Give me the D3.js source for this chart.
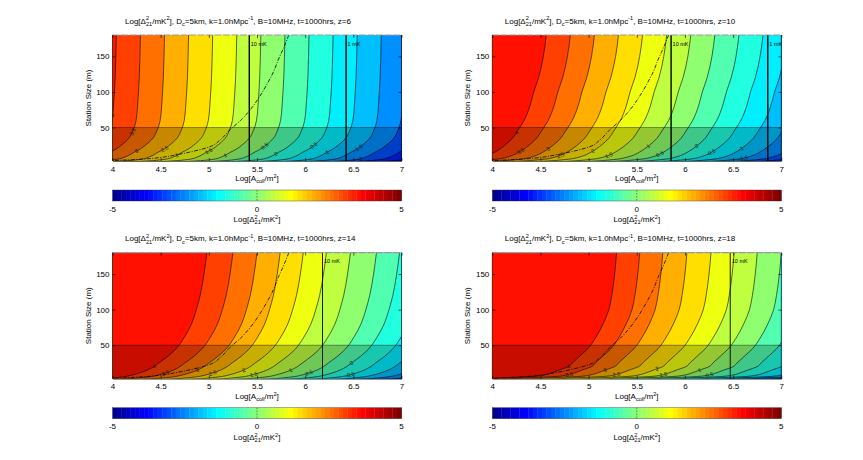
<!DOCTYPE html>
<html>
<head>
<meta charset="utf-8">
<script src="https://cdn.jsdelivr.net/npm/d3@7"></script>
<style>
  body { margin: 0; background: #fff; }
  text { font-family: "Liberation Sans", Arial, sans-serif; }
</style>
</head>
<body>
<svg id="chart"></svg>
<script>
let width = 863,
  height = 460;

// contour levels, log10 of the noise power in mK^2
const levels = [4, 3.5, 3, 2.5, 2, 1.5, 1, 0.5, 0, -0.5, -1, -1.5, -2, -2.5, -3, -3.5, -4];

// redshift of each panel
const zValues = [6, 10, 14, 18];

// log collecting area where each level meets the top edge (station size 180 m)
const topZ6  = [4.04, 4.29, 4.54, 4.79, 5.04, 5.29, 5.54, 5.79, 6.04, 6.29, 6.54, 6.79, 7.04, 7.29, 7.54, 7.79, 8.04];
const topZ10 = [4.56, 4.81, 5.06, 5.31, 5.56, 5.81, 6.06, 6.31, 6.56, 6.81, 7.06, 7.31, 7.56, 7.81, 8.06, 8.31, 8.56];
const topZ14 = [4.98, 5.25, 5.50, 5.74, 5.98, 6.22, 6.47, 6.74, 6.98, 7.23, 7.48, 7.73, 7.98, 8.23, 8.48, 8.73, 8.98];
const topZ18 = [5.29, 5.53, 5.77, 6.02, 6.27, 6.51, 6.75, 7.00, 7.25, 7.50, 7.75, 8.00, 8.25, 8.50, 8.75, 9.00, 9.25];

// how far (in log area) the contours bend left as the station gets smaller
const shiftS   = [180, 150, 120, 100, 80, 60, 45, 35, 25, 20, 15, 11, 8, 6, 4, 3, 0];
const shiftZ6  = [0, 0.005, 0.012, 0.02, 0.03, 0.045, 0.08, 0.12, 0.20, 0.25, 0.32, 0.37, 0.42, 0.47, 0.58, 0.68, 1.1];
const shiftZ10 = [0, 0.03, 0.08, 0.13, 0.17, 0.23, 0.30, 0.35, 0.43, 0.48, 0.54, 0.60, 0.67, 0.74, 0.88, 0.98, 1.5];
const shiftZ14 = [0, 0.03, 0.07, 0.11, 0.16, 0.24, 0.32, 0.40, 0.50, 0.55, 0.62, 0.70, 0.78, 0.85, 0.98, 1.06, 1.6];
const shiftZ18 = [0, 0.02, 0.05, 0.08, 0.14, 0.22, 0.30, 0.38, 0.46, 0.50, 0.60, 0.68, 0.76, 0.88, 1.20, 1.30, 1.9];

// contour labels: [level, station size]
const labelsZ6  = [[4, 67], [3.5, 44], [3, 17], [2.5, 20], [2, 11], [1.5, 17], [1, 11], [0.5, 24], [0, 13], [-0.5, 24], [-1, 15], [-1.5, 21], [-2, 6]];
const labelsZ10 = [[4, 43], [3.5, 17], [3, 20], [2.5, 11], [2, 17], [1.5, 11], [1, 24], [0.5, 13], [0, 24], [-0.5, 15], [-1, 20], [-1.5, 7]];
const labelsZ14 = [[4, 20], [3.5, 11], [3, 15], [2.5, 11], [2, 15], [1.5, 9], [1, 15], [0.5, 11], [0, 25], [-0.5, 8.5]];
const labelsZ18 = [[4, 20], [3.5, 9], [3, 15], [2.5, 9], [2, 17], [1.5, 9], [1, 15], [0.5, 8.5]];

// 10 mK and 1 mK sensitivity lines (log area)
const line10mK = [5.42, 5.856, 6.18, 6.47];
const line1mK  = [6.425, 6.86, null, null];

// dash-dot curve (same in every panel)
const fovA = [5.83, 5.78, 5.72, 5.67, 5.60, 5.52, 5.43, 5.33, 5.22, 5.12, 5.01, 4.85, 4.66, 4.50, 4.30, 4.00];
const fovS = [180, 163, 145, 128, 110, 92, 75, 60, 47, 33, 23, 17, 11.6, 8, 5.5, 3.6];

// axis ticks
const xTicks = [4, 4.5, 5, 5.5, 6, 6.5, 7];
const yTicks = [50, 100, 150];
const cbTicks = [-5, 0, 5];

const panels = [
  { z: zValues[0], top: topZ6,  shift: shiftZ6,  labels: labelsZ6,  l10: line10mK[0], l1: line1mK[0], left: 112.5, y0: 35 },
  { z: zValues[1], top: topZ10, shift: shiftZ10, labels: labelsZ10, l10: line10mK[1], l1: line1mK[1], left: 492.3, y0: 35 },
  { z: zValues[2], top: topZ14, shift: shiftZ14, labels: labelsZ14, l10: line10mK[2], l1: line1mK[2], left: 112.5, y0: 252.7 },
  { z: zValues[3], top: topZ18, shift: shiftZ18, labels: labelsZ18, l10: line10mK[3], l1: line1mK[3], left: 492.3, y0: 252.7 }
];
const pw = 289, ph = 126;

let svg = d3.select("#chart").attr("width", width).attr("height", height);
svg.append("rect").attr("width", width).attr("height", height).attr("fill", "#fff");

// matlab jet, 64 colours, limits [-5, 5]
function jet(t) {
  const c = v => Math.max(0, Math.min(1, v));
  const r = c(Math.min(4 * t - 1.5, -4 * t + 4.5));
  const g = c(Math.min(4 * t - 0.5, -4 * t + 3.5));
  const b = c(Math.min(4 * t + 0.5, -4 * t + 2.5));
  return d3.rgb(r * 255, g * 255, b * 255).formatHex();
}
function cmap(v) {
  let i = Math.floor((v + 5) / 10 * 64);
  i = Math.max(0, Math.min(63, i));
  return jet((i + 1) / 64);
}

// text with super / subscripts
function rich(g, x, y, parts, size, anchor) {
  const t = g.append("text").attr("x", x).attr("y", y)
    .attr("font-size", size).attr("text-anchor", anchor).attr("fill", "#000");
  let off = 0;
  parts.forEach(([s, k, dx]) => {
    const target = k === "sup" ? -0.4 * size : k === "sub" ? 0.3 * size : 0;
    const ts = t.append("tspan").attr("dy", target - off).text(s);
    if (k !== "n") ts.attr("font-size", size * 0.7);
    if (dx) ts.attr("dx", dx);
    off = target;
  });
  return t;
}

const deltaLabel = size => [["Log[Δ", "n"], ["2", "sup"], ["21", "sub", -0.39 * size], ["/mK", "n"], ["2", "sup"], ["]", "n"]];

panels.forEach((p, i) => {
  const x = d3.scaleLinear().domain([4, 7]).range([p.left, p.left + pw]);
  const y = d3.scaleLinear().domain([3, 180]).range([p.y0 + ph, p.y0]);
  const shiftAt = d3.scaleLinear().domain(shiftS).range(p.shift);

  const g = svg.append("g");
  g.append("clipPath").attr("id", "clip" + i)
    .append("rect").attr("x", x(4)).attr("y", y(180)).attr("width", pw).attr("height", ph);
  const plot = g.append("g").attr("clip-path", "url(#clip" + i + ")");

  plot.append("rect").attr("x", x(4)).attr("y", y(180)).attr("width", pw).attr("height", ph)
    .attr("fill", cmap(levels[levels.length - 1] - 1));

  const curves = levels.map((L, k) => ({
    L: L,
    pts: shiftS.map((s, j) => [p.top[k] - p.shift[j], s])
  }));

  const area = d3.area().curve(d3.curveMonotoneY)
    .y(d => y(d[1])).x0(x(4)).x1(d => x(d[0]));
  const line = d3.line().curve(d3.curveMonotoneY)
    .x(d => x(d[0])).y(d => y(d[1]));

  // filled bands, lowest level first
  curves.slice().reverse().forEach(c => {
    plot.append("path").attr("d", area(c.pts)).attr("fill", cmap(c.L - 0.5));
  });

  // shaded small-station region
  plot.append("rect").attr("x", x(4)).attr("y", y(50)).attr("width", pw).attr("height", y(3) - y(50))
    .attr("fill", "#000").attr("fill-opacity", 0.22);
  plot.append("line").attr("x1", x(4)).attr("x2", x(7)).attr("y1", y(50)).attr("y2", y(50))
    .attr("stroke", "#000").attr("stroke-opacity", 0.5).attr("stroke-width", 0.8);

  curves.forEach(c => {
    plot.append("path").attr("d", line(c.pts)).attr("fill", "none")
      .attr("stroke", "#000").attr("stroke-width", 0.7).attr("stroke-opacity", 0.85);
  });

  // dash-dot curve
  plot.append("path")
    .attr("d", d3.line().curve(d3.curveMonotoneY).x(d => x(d[0])).y(d => y(d[1]))(fovA.map((a, k) => [a, fovS[k]])))
    .attr("fill", "none").attr("stroke", "#000").attr("stroke-width", 0.8)
    .attr("stroke-dasharray", "4,1.5,1,1.5");

  // contour labels
  p.labels.forEach(([L, s]) => {
    const k = levels.indexOf(L);
    const a = p.top[k] - shiftAt(s);
    const xa = x(p.top[k] - shiftAt(s + 2)), ya = y(s + 2);
    const xb = x(p.top[k] - shiftAt(Math.max(3, s - 2))), yb = y(Math.max(3, s - 2));
    let ang = Math.atan2(yb - ya, xb - xa) * 180 / Math.PI;
    if (ang > 90) ang -= 180;
    if (ang < -90) ang += 180;
    plot.append("text")
      .attr("transform", `translate(${x(a)},${y(s)}) rotate(${ang})`)
      .attr("text-anchor", "middle").attr("dy", "0.35em")
      .attr("font-size", 5.5).attr("fill", "#111")
      .text(L);
  });

  // sensitivity lines
  [[p.l10, "10 mK"], [p.l1, "1 mK"]].forEach(([a, name]) => {
    if (a === null) return;
    plot.append("line").attr("x1", x(a)).attr("x2", x(a)).attr("y1", y(180)).attr("y2", y(3))
      .attr("stroke", "#000").attr("stroke-width", i < 2 ? 1.4 : 0.9);
    g.append("text").attr("x", x(a) + 1.5).attr("y", y(165))
      .attr("font-size", 5.5).attr("fill", "#000").text(name);
  });

  // frame
  g.append("line").attr("x1", x(4)).attr("x2", x(7)).attr("y1", y(180)).attr("y2", y(180))
    .attr("stroke", "#999").attr("stroke-width", 1.2).attr("stroke-dasharray", "7,1.5");
  g.append("line").attr("x1", x(4)).attr("x2", x(4)).attr("y1", y(180)).attr("y2", y(3))
    .attr("stroke", "#000").attr("stroke-width", 0.6);
  g.append("line").attr("x1", x(7)).attr("x2", x(7)).attr("y1", y(180)).attr("y2", y(3))
    .attr("stroke", "#000").attr("stroke-width", 0.6);

  const ax = g.append("g").attr("transform", `translate(0,${y(3)})`)
    .call(d3.axisBottom(x).tickValues(xTicks).tickSize(-3).tickSizeOuter(0).tickPadding(5).tickFormat(d => d));
  const ay = g.append("g").attr("transform", `translate(${x(4)},0)`)
    .call(d3.axisLeft(y).tickValues(yTicks).tickSize(-3).tickSizeOuter(0).tickPadding(3).tickFormat(d => d));
  g.append("g").attr("transform", `translate(0,${y(180)})`)
    .call(d3.axisTop(x).tickValues(xTicks).tickSize(-3).tickSizeOuter(0).tickFormat(""))
    .select(".domain").remove();
  g.append("g").attr("transform", `translate(${x(7)},0)`)
    .call(d3.axisRight(y).tickValues(yTicks).tickSize(-3).tickSizeOuter(0).tickFormat(""))
    .select(".domain").remove();
  [ax, ay].forEach(a => {
    a.attr("font-size", 8).attr("font-family", null);
    a.select(".domain").attr("stroke-width", 0.6);
  });
  g.selectAll(".tick line").attr("stroke", "#000").attr("stroke-width", 0.6);
  ay.select(".domain").remove();

  // axis titles
  g.append("text").attr("transform", `translate(${p.left - 22},${p.y0 + ph / 2}) rotate(-90)`)
    .attr("text-anchor", "middle").attr("font-size", 8).text("Station Size (m)");
  rich(g, p.left + pw / 2, y(3) + 20, [["Log[A", "n"], ["coll", "sub"], ["/m", "n"], ["2", "sup"], ["]", "n"]], 8, "middle");

  // title
  rich(g, p.left + 12.5, p.y0 - 11.5, deltaLabel(8).slice(0, 5).concat([
    ["], D", "n"], ["c", "sub"], ["=5km, k=1.0hMpc", "n"], ["-1", "sup"],
    [", B=10MHz, t=1000hrs, z=" + p.z, "n"]
  ]), 8, "start");

  // colour bar
  const cx = d3.scaleLinear().domain([-5, 5]).range([p.left, p.left + pw]);
  const cbTop = y(3) + 29, cbH = 11;
  const steps = d3.range(64);
  g.selectAll(".cb").data(steps).enter().append("rect")
    .attr("x", d => cx(-5 + d * 10 / 64))
    .attr("width", d => cx(-5 + (d + 1) * 10 / 64) - cx(-5 + d * 10 / 64) + 0.3)
    .attr("y", cbTop).attr("height", cbH)
    .attr("fill", d => jet((d + 1) / 64));
  g.append("rect").attr("x", cx(-5)).attr("y", cbTop).attr("width", pw).attr("height", cbH)
    .attr("fill", "none").attr("stroke", "#333").attr("stroke-width", 0.4);
  g.append("line").attr("x1", cx(0)).attr("x2", cx(0)).attr("y1", cbTop).attr("y2", cbTop + cbH)
    .attr("stroke", "#333").attr("stroke-width", 0.6).attr("stroke-dasharray", "1.5,1.5");
  cbTicks.forEach(v => {
    g.append("text").attr("x", cx(v)).attr("y", cbTop + cbH + 10.5)
      .attr("text-anchor", "middle").attr("font-size", 8).text(v);
  });
  rich(g, p.left + pw / 2, cbTop + cbH + 21, deltaLabel(8), 8, "middle");
});
</script>
</body>
</html>
